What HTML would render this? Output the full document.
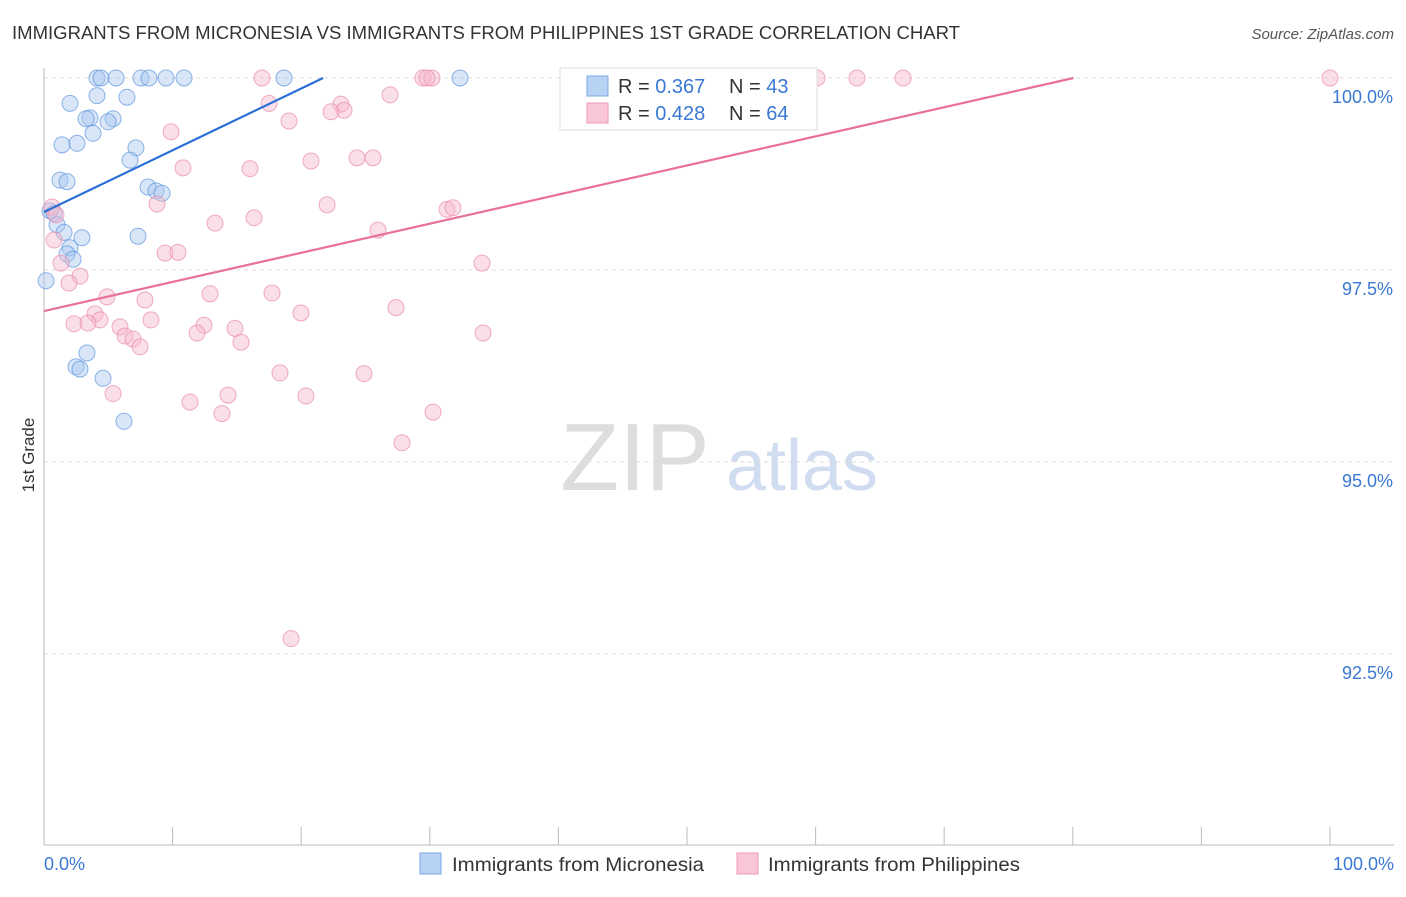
<!DOCTYPE html>
<html><head><meta charset="utf-8"><style>
body{margin:0;background:#fff;font-family:"Liberation Sans",sans-serif;}
svg text{font-family:"Liberation Sans",sans-serif;}
</style></head><body>
<svg id="chart" width="1406" height="892" xmlns="http://www.w3.org/2000/svg">
<text x="12" y="39" font-size="18" fill="#333" textLength="948" lengthAdjust="spacingAndGlyphs">IMMIGRANTS FROM MICRONESIA VS IMMIGRANTS FROM PHILIPPINES 1ST GRADE CORRELATION CHART</text>
<text x="1394" y="39" font-size="15" fill="#555" font-style="italic" text-anchor="end">Source: ZipAtlas.com</text>
<text transform="translate(34,455) rotate(-90)" font-size="17" fill="#333" text-anchor="middle">1st Grade</text>
<g><text x="635" y="490" font-size="96" fill="#ddd" font-family="Liberation Serif" text-anchor="middle">ZIP</text><text x="802" y="490" font-size="72" fill="#d0dcf0" text-anchor="middle">atlas</text></g>
<g id="grid"></g><g id="axes"></g><g id="pts"></g><g id="lines"></g>
<g>
<rect x="560" y="68" width="257" height="62" fill="#fff" stroke="#ddd"/>
<rect x="587" y="76" width="21" height="20" fill="#b8d2f4" stroke="#7aa8e6"/>
<rect x="587" y="103" width="21" height="20" fill="#f9c6d6" stroke="#ee9ab6"/>
<text x="618" y="93" font-size="20" fill="#333">R = <tspan fill="#3a78d4">0.367</tspan></text>
<text x="729" y="93" font-size="20" fill="#333">N = <tspan fill="#3a78d4">43</tspan></text>
<text x="618" y="120" font-size="20" fill="#333">R = <tspan fill="#3a78d4">0.428</tspan></text>
<text x="729" y="120" font-size="20" fill="#333">N = <tspan fill="#3a78d4">64</tspan></text>
</g>
<g>
<rect x="420" y="853" width="21" height="21" fill="#b8d2f4" stroke="#7aa8e6"/>
<text x="452" y="871" font-size="19" fill="#333" textLength="252" lengthAdjust="spacingAndGlyphs">Immigrants from Micronesia</text>
<rect x="737" y="853" width="21" height="21" fill="#f9c6d6" stroke="#ee9ab6"/>
<text x="768" y="871" font-size="19" fill="#333" textLength="252" lengthAdjust="spacingAndGlyphs">Immigrants from Philippines</text>
</g>
</svg>
<script>
const blueX=[4.12,4.43,5.60,7.54,8.16,9.49,10.89,18.66,32.35,2.02,4.12,6.45,3.58,3.27,5.37,4.98,1.40,2.57,3.81,7.15,6.69,1.24,1.79,8.09,8.71,9.18,0.47,0.78,1.01,1.56,2.95,7.31,2.02,1.79,2.26,0.16,3.34,2.49,2.80,4.59,6.22];
const blueY=[100,100,100,100,100,100,100,100,100,99.67,99.77,99.75,99.48,99.47,99.47,99.43,99.13,99.15,99.28,99.09,98.93,98.67,98.65,98.58,98.53,98.50,98.27,98.24,98.09,97.99,97.92,97.94,97.79,97.71,97.64,97.36,96.42,96.24,96.21,96.09,95.53];
const pinkX=[16.95,29.47,30.17,29.78,60.11,63.22,66.80,100,26.91,17.50,23.09,23.33,22.32,19.05,9.88,20.76,24.34,25.58,10.81,16.02,22.01,8.79,0.62,0.93,16.33,13.30,25.97,31.34,31.80,0.78,9.41,10.42,1.32,2.80,1.94,34.06,4.90,7.85,12.91,17.73,27.37,19.98,3.97,4.35,8.32,2.33,3.42,12.44,5.91,14.85,11.90,6.30,6.92,15.32,7.47,34.14,18.35,24.88,5.37,14.31,11.35,20.37,13.84,30.25,27.84,19.21];
const pinkY=[100,100,100,100,100,100,100,100,99.78,99.67,99.66,99.58,99.56,99.44,99.30,98.92,98.96,98.96,98.83,98.82,98.35,98.36,98.32,98.22,98.18,98.11,98.02,98.29,98.31,97.89,97.72,97.73,97.59,97.42,97.33,97.59,97.15,97.11,97.19,97.20,97.01,96.94,96.93,96.85,96.85,96.80,96.81,96.78,96.76,96.74,96.68,96.64,96.60,96.56,96.50,96.68,96.16,96.15,95.89,95.87,95.78,95.86,95.63,95.65,95.25,92.70];
const blueLine=[98.255,0.0804];
const pinkLine=[96.966,0.0379];
const yTicks=[100,97.5,95,92.5];
const yTickLabels=["100.0%","97.5%","95.0%","92.5%"];
const xTicks=[0,10,20,30,40,50,60,70,80,90,100];
const NS="http://www.w3.org/2000/svg";
const sx=v=>44+v*12.86, sy=v=>78+(100-v)*76.8;
function mk(t,a,p){const e=document.createElementNS(NS,t);for(const k in a)e.setAttribute(k,a[k]);p.appendChild(e);return e;}
const grid=document.getElementById('grid'),axes=document.getElementById('axes'),pts=document.getElementById('pts'),lines=document.getElementById('lines');
yTicks.forEach((v,i)=>{
 const l=mk('line',{x1:44,x2:1394,y1:sy(v),y2:sy(v),stroke:'#ddd','stroke-dasharray':'4,4'},grid);
 
 
 const t=mk('text',{x:1393,y:sy(v)+25,'font-size':18,fill:'#3a78d4','text-anchor':'end'},axes);
 t.textContent=yTickLabels[i];
 
 
});
const ya=mk('line',{x1:44,x2:44,y1:68,y2:845,stroke:'#bbb'},axes);


const xa=mk('line',{x1:44,x2:1394,y1:845,y2:845,stroke:'#bbb'},axes);


xTicks.forEach(v=>{const l=mk('line',{x1:sx(v),x2:sx(v),y1:827,y2:845,stroke:'#bbb'},axes);
 
 });
[[0,'0.0%','start',44],[100,'100.0%','end',1394]].forEach(d=>{const t=mk('text',{x:d[3],y:870,'font-size':18,fill:'#3a78d4','text-anchor':d[2]},axes);t.textContent=d[1];
 
 });
function dots(X,Y,fill,stroke,name){X.forEach((x,i)=>{const c=mk('circle',{cx:sx(x),cy:sy(Y[i]),r:8,fill:fill,'fill-opacity':0.45,stroke:stroke,'stroke-opacity':0.7},pts);
 
 });}
dots(blueX,blueY,'#a9c8f0','#5f95dd','micronesia-point');
dots(pinkX,pinkY,'#f7b8cc','#e88aac','philippines-point');
function reg(p,col,name){let x2=Math.min(100,(100-p[0])/p[1]);const l=mk('line',{x1:sx(0),y1:sy(p[0]),x2:sx(x2),y2:sy(p[0]+p[1]*x2),stroke:col,'stroke-width':2.2},lines);
 
 }
reg(blueLine,'#2a6fd6','micronesia-trendline');
reg(pinkLine,'#e8709a','philippines-trendline');
</script>
</body></html>
